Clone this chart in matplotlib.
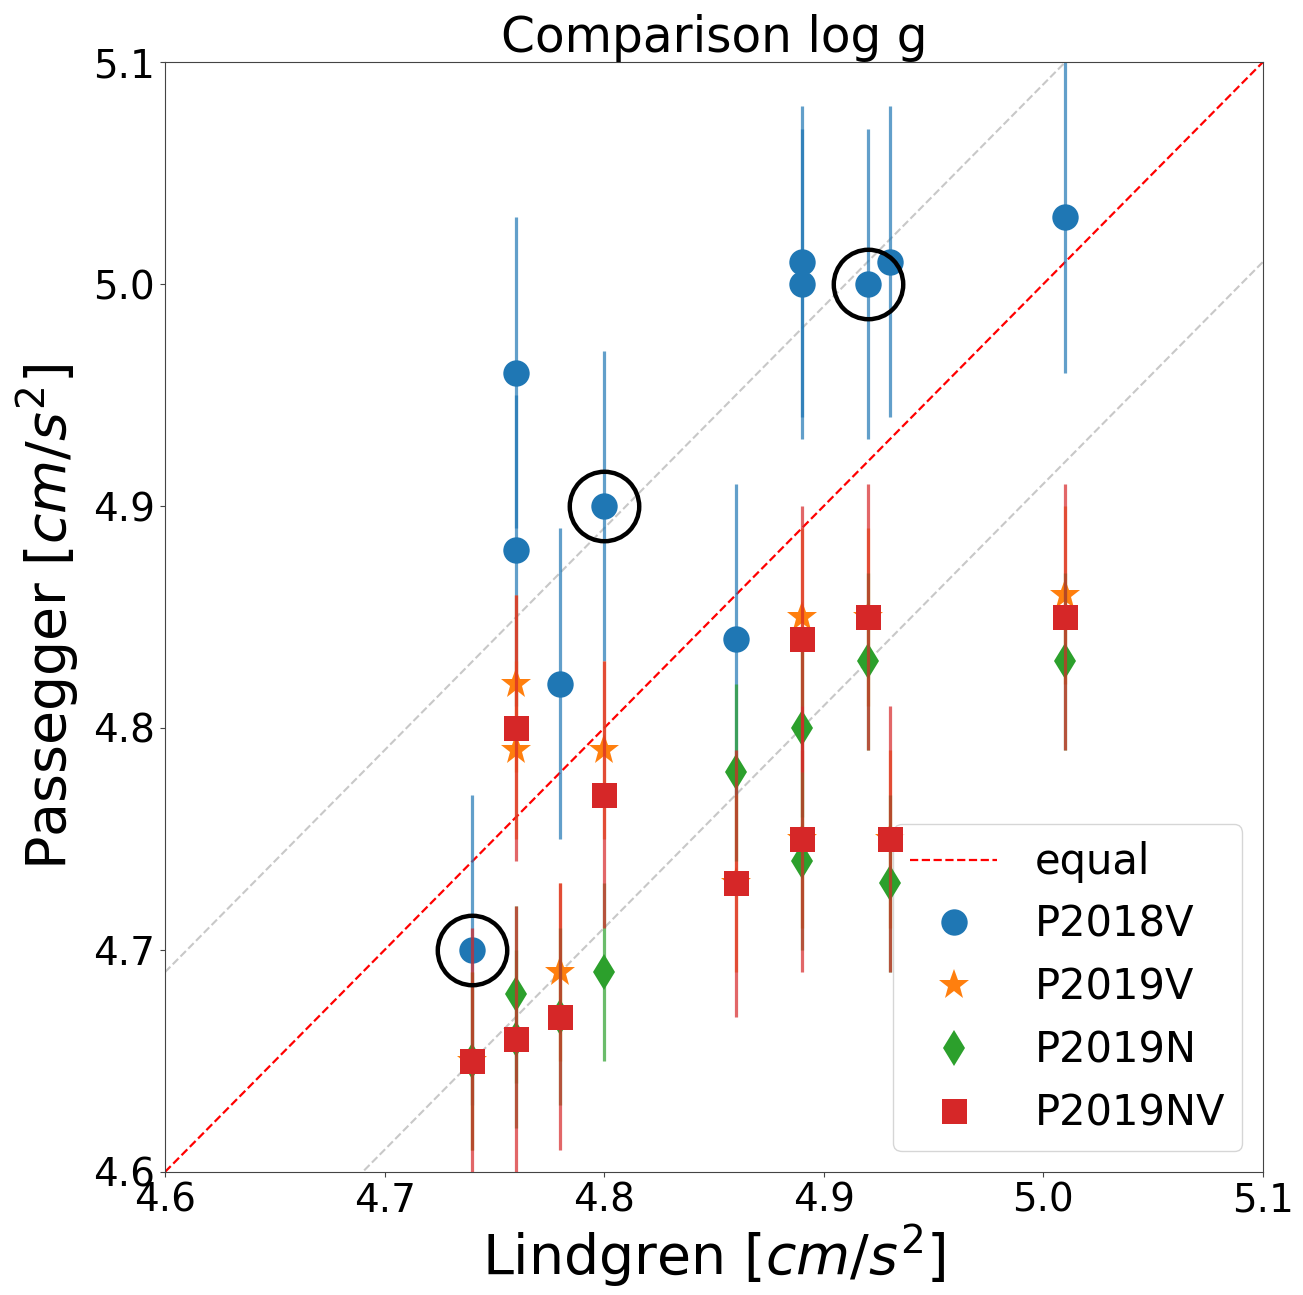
import matplotlib.pyplot as plt

# log g values
lindgren = [4.74, 4.76, 4.76, 4.78, 4.80, 4.86, 4.89, 4.89, 4.92, 4.93, 5.01]
p2018v = [4.70, 4.96, 4.88, 4.82, 4.90, 4.84, 5.01, 5.00, 5.00, 5.01, 5.03]
p2019v = [4.65, 4.82, 4.79, 4.69, 4.79, 4.73, 4.85, 4.75, 4.85, 4.75, 4.86]
p2019n = [4.65, 4.68, 4.66, 4.67, 4.69, 4.78, 4.80, 4.74, 4.83, 4.73, 4.83]
p2019nv = [4.65, 4.80, 4.66, 4.67, 4.77, 4.73, 4.84, 4.75, 4.85, 4.75, 4.85]

err_p2018v = 0.07
err_p2019v = 0.04
err_p2019n = 0.04
err_p2019nv = 0.06

# stars marked with a black ring
ring_x = [4.74, 4.80, 4.92]
ring_y = [4.70, 4.90, 5.00]

ticks = [4.6, 4.7, 4.8, 4.9, 5.0, 5.1]
offset = 0.09

fig = plt.figure(figsize=(13.03, 12.95), dpi=100)
ax = fig.add_axes([0.1266, 0.0950, 0.8427, 0.8571])

lim = [4.6, 5.1]
ax.plot(lim, [v + offset for v in lim], color="#c8c8c8", linestyle="--", linewidth=1.5, zorder=1)
ax.plot(lim, [v - offset for v in lim], color="#c8c8c8", linestyle="--", linewidth=1.5, zorder=1)
ax.plot(lim, lim, color="red", linestyle="--", linewidth=1.6, zorder=1, label="equal")

series = [
    ("P2018V", p2018v, err_p2018v, "tab:blue", "o", 19),
    ("P2019V", p2019v, err_p2019v, "tab:orange", "*", 23),
    ("P2019N", p2019n, err_p2019n, "tab:green", "d", 18),
    ("P2019NV", p2019nv, err_p2019nv, "tab:red", "s", 18),
]

z = 2
for name, vals, err, color, marker, ms in series:
    ax.errorbar(lindgren, vals, yerr=err, fmt="none", ecolor=color, elinewidth=2.3, alpha=0.7, zorder=z)
    ax.plot(lindgren, vals, linestyle="none", marker=marker, color=color, markersize=ms,
            markeredgewidth=0, label=name, zorder=z + 1)
    z += 2

ax.plot(ring_x, ring_y, linestyle="none", marker="o", markersize=50, markerfacecolor="none",
        markeredgecolor="black", markeredgewidth=3.2, zorder=20)

ax.set_xlim(lim)
ax.set_ylim(lim)
ax.set_xticks(ticks)
ax.set_yticks(ticks)
ax.tick_params(labelsize=28, color="#444444")
for spine in ax.spines.values():
    spine.set_color("#444444")

ax.set_title("Comparison log g", fontsize=35, pad=1)
ax.set_xlabel("Lindgren [$cm/s^2$]", fontsize=40, labelpad=2)
ax.set_ylabel("Passegger [$cm/s^2$]", fontsize=40, labelpad=8)

ax.legend(loc="lower right", fontsize=30, handlelength=2.1, borderpad=0.4, labelspacing=0.5,
          handletextpad=0.9)

fig.savefig("out.png", dpi=100, facecolor="white")
